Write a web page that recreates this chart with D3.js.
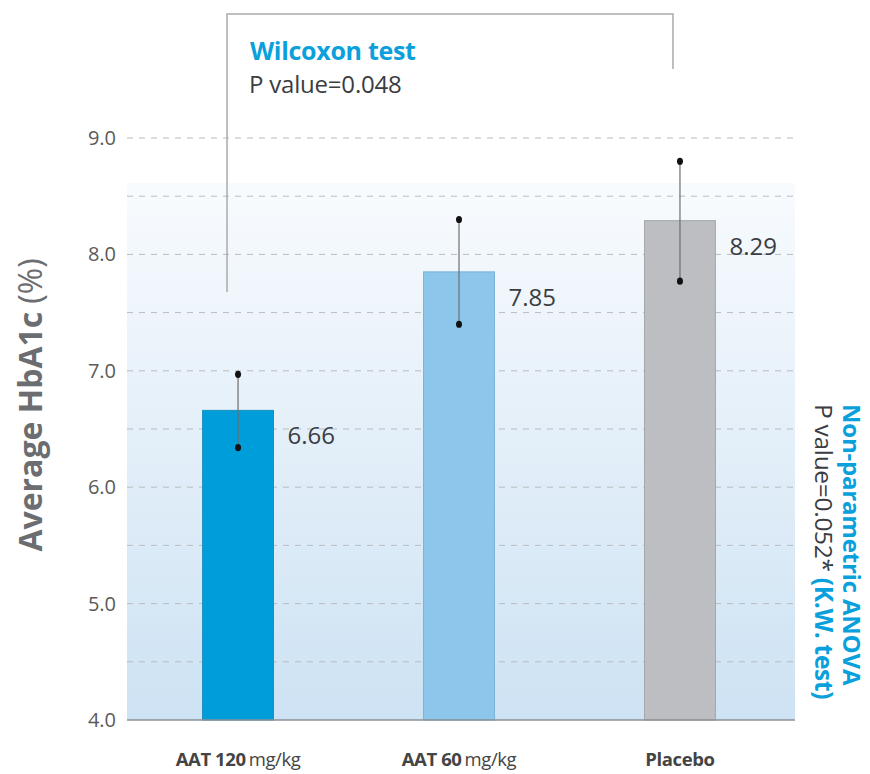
<!DOCTYPE html>
<html>
<head>
<meta charset="utf-8">
<script src="https://cdn.jsdelivr.net/npm/d3@7"></script>
<style>
  html, body { margin: 0; padding: 0; background: #ffffff; }
  svg { display: block; font-family: "Open Sans", "Noto Sans", sans-serif; }
</style>
</head>
<body>
<svg id="chart" width="870" height="774"></svg>
<script>
// ---- data ----
const groupsBold = ["AAT 120", "AAT 60", "Placebo"];
const groupsUnit = ["mg/kg", "mg/kg", ""];
const means = [6.66, 7.85, 8.29];
const errLow = [6.34, 7.40, 7.77];
const errHigh = [6.97, 8.30, 8.80];
const barColors = ["#009ddb", "#8cc6ea", "#bcbec1"];
const barStroke = ["#1b8fc2", "#79b3d8", "#a6a8ab"];
const yTicks = [4.0, 5.0, 6.0, 7.0, 8.0, 9.0];
const yGrid = [4.5, 5.0, 5.5, 6.0, 6.5, 7.0, 7.5, 8.0, 8.5, 9.0];

const svg = d3.select("#chart");
const x0 = 127, x1 = 795;

const y = d3.scaleLinear().domain([4, 9]).range([720, 138]);
const x = d3.scaleBand().domain(d3.range(3)).range([127, 791]).paddingInner(0.679).paddingOuter(0.342);

// background gradient panel
const defs = svg.append("defs");
const grad = defs.append("linearGradient").attr("id", "bg").attr("x1", 0).attr("y1", 0).attr("x2", 0).attr("y2", 1);
grad.append("stop").attr("offset", "0%").attr("stop-color", "#f8fbfe");
grad.append("stop").attr("offset", "100%").attr("stop-color", "#cde2f3");
svg.append("rect").attr("x", x0).attr("y", 183).attr("width", x1 - x0).attr("height", y(4) - 183).attr("fill", "url(#bg)");

// gridlines
svg.append("g").selectAll("line").data(yGrid).join("line")
  .attr("x1", x0).attr("x2", x1)
  .attr("y1", d => y(d)).attr("y2", d => y(d))
  .attr("stroke", "#b9bcc0").attr("stroke-width", 1).attr("stroke-dasharray", "6,6");

// y tick labels
svg.append("g").selectAll("text").data(yTicks).join("text")
  .attr("x", 116).attr("y", d => y(d)).attr("dy", "0.35em")
  .attr("text-anchor", "end").attr("font-size", 20).attr("fill", "#5a5a5a")
  .text(d => d.toFixed(1));

// bars
svg.append("g").selectAll("rect").data(means).join("rect")
  .attr("x", (d, i) => x(i)).attr("width", x.bandwidth())
  .attr("y", d => y(d)).attr("height", d => y(4) - y(d))
  .attr("fill", (d, i) => barColors[i]).attr("stroke", (d, i) => barStroke[i]).attr("stroke-width", 1);

// axis baseline
svg.append("line").attr("x1", x0).attr("x2", x1).attr("y1", y(4)).attr("y2", y(4))
  .attr("stroke", "#8d9297").attr("stroke-width", 1.5);

// error bars
const eb = svg.append("g");
means.forEach((m, i) => {
  const cx = x(i) + x.bandwidth() / 2;
  eb.append("line").attr("x1", cx).attr("x2", cx).attr("y1", y(errLow[i])).attr("y2", y(errHigh[i]))
    .attr("stroke", "#6e6e6e").attr("stroke-width", 1.2);
  [errLow[i], errHigh[i]].forEach(v => {
    eb.append("ellipse").attr("cx", cx).attr("cy", y(v)).attr("rx", 3).attr("ry", 3.6).attr("fill", "#111");
  });
  // value label
  svg.append("text").attr("x", x(i) + x.bandwidth() + 14).attr("y", y(m) + 34)
    .attr("font-size", 24).attr("fill", "#3a3d42").text(m.toFixed(2));
});

// x labels
const xl = svg.append("g");
groupsBold.forEach((g, i) => {
  const cx = x(i) + x.bandwidth() / 2;
  const t = xl.append("text").attr("x", cx).attr("y", 766).attr("text-anchor", "middle")
    .attr("font-size", 18.5).attr("fill", "#444").attr("letter-spacing", -0.4);
  t.append("tspan").attr("font-weight", "bold").text(g);
  if (groupsUnit[i]) t.append("tspan").attr("dx", 3).text(groupsUnit[i]);
});

// y axis title
const yt = svg.append("text").attr("transform", "translate(42,405) rotate(-90)")
  .attr("text-anchor", "middle").attr("font-size", 32).attr("fill", "#6b6d70");
yt.append("tspan").attr("font-weight", "bold").text("Average HbA1c");
yt.append("tspan").attr("dx", 8).text("(%)");

// Wilcoxon bracket
const bx1 = x(0) + x.bandwidth() / 2 - 11, bx2 = x(2) + x.bandwidth() / 2 - 7;
svg.append("path").attr("d", `M${bx1},292 V14 H${bx2} V69`)
  .attr("fill", "none").attr("stroke", "#a9abad").attr("stroke-width", 1.5);
svg.append("text").attr("x", 250).attr("y", 60).attr("font-size", 25).attr("font-weight", "bold")
  .attr("fill", "#0aa0dc").attr("letter-spacing", -0.3).text("Wilcoxon test");
svg.append("text").attr("x", 249).attr("y", 93).attr("font-size", 24)
  .attr("fill", "#3a3d42").attr("letter-spacing", -0.2).text("P value=0.048");

// right title (rotated 90)
const rt = svg.append("g").attr("transform", "translate(843,404) rotate(90)");
rt.append("text").attr("x", 0).attr("y", 0).attr("font-size", 24).attr("font-weight", "bold")
  .attr("fill", "#0aa0dc").attr("letter-spacing", -0.2).text("Non-parametric ANOVA");
const rt2 = rt.append("text").attr("x", 0).attr("y", 28).attr("font-size", 24.5).attr("fill", "#3a3d42").attr("letter-spacing", -0.3);
rt2.append("tspan").text("P value=0.052* ");
rt2.append("tspan").attr("font-weight", "bold").attr("fill", "#0aa0dc").text("(K.W. test)");
</script>
</body>
</html>
